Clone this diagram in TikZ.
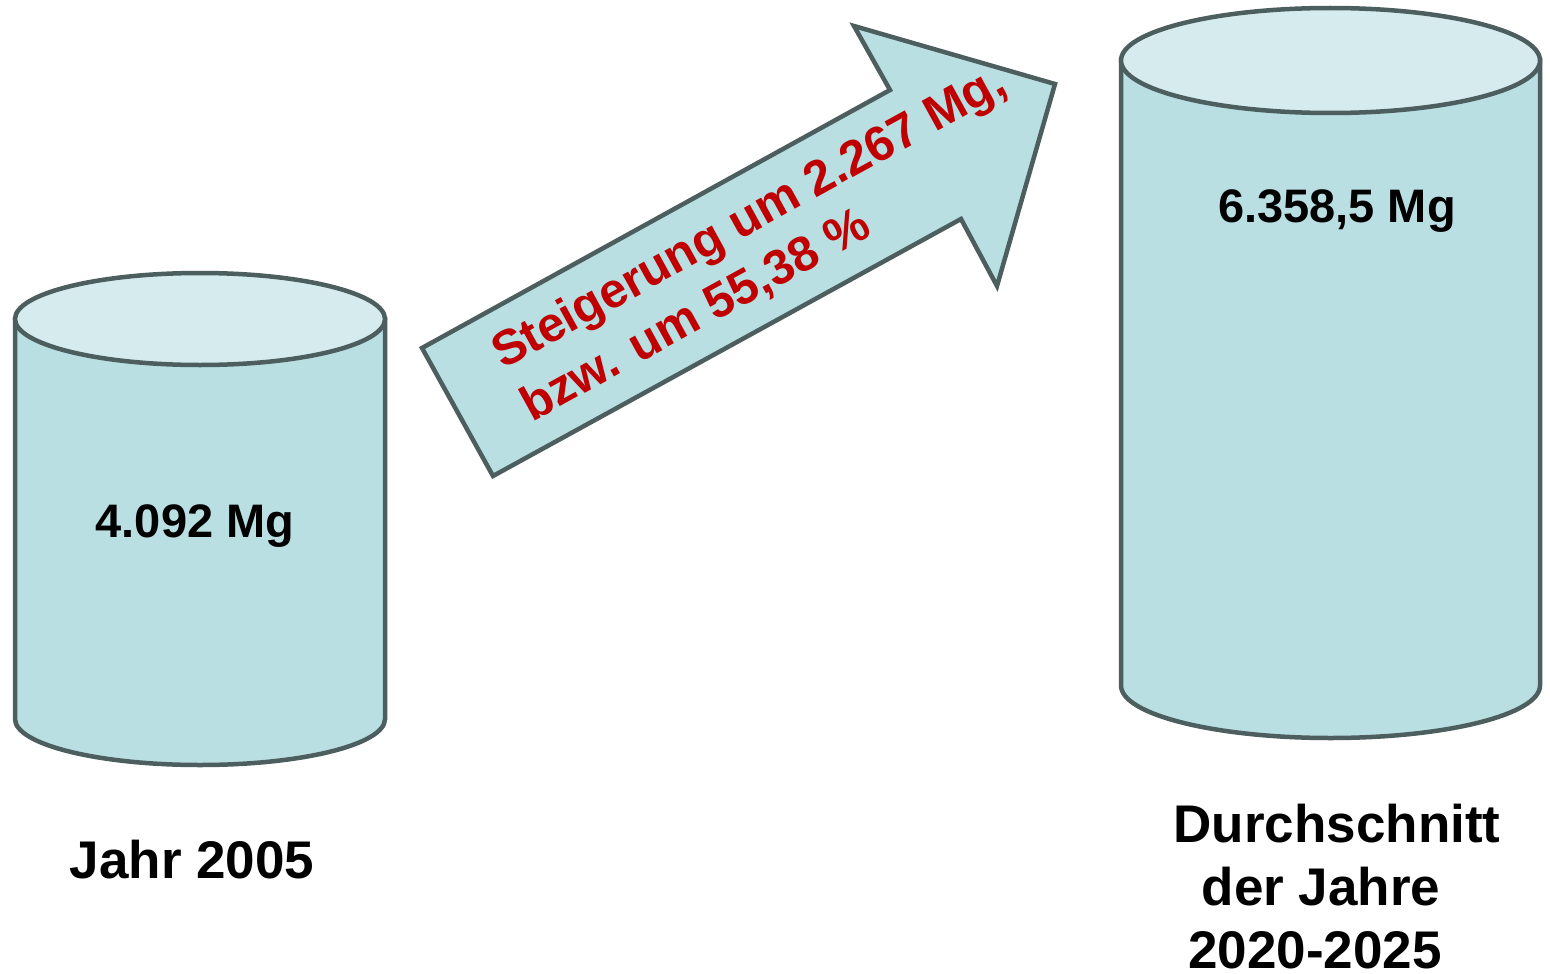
\documentclass[tikz,border=0pt]{standalone}
\usepackage{fontspec}
\setmainfont{Liberation Sans}
\definecolor{bodyfill}{HTML}{B9DFE3}
\definecolor{topfill}{HTML}{D6EBEE}
\definecolor{edge}{HTML}{4D5E5E}
\definecolor{redtxt}{HTML}{C00000}
\tikzset{
  shapeline/.style={draw=edge, line width=4.5pt, line join=miter},
  val/.style={inner sep=0pt, anchor=base, font=\fontsize{47}{56}\selectfont\bfseries},
  captionlbl/.style={inner sep=0pt, anchor=base, font=\fontsize{53}{63}\selectfont\bfseries},
  redlbl/.style={inner sep=0pt, anchor=base west, rotate=28.8, text=redtxt, font=\fontsize{49}{58}\selectfont\bfseries}
}
\begin{document}
\begin{tikzpicture}[x=1pt,y=-1pt]
\useasboundingbox (0,0) rectangle (1550,974);
% left cylinder
\path[shapeline, fill=bodyfill] (15,319) -- (15,719) arc[start angle=180, end angle=0, x radius=185, y radius=46] -- (385,319) -- cycle;
\path[shapeline, fill=topfill] (200,319) ellipse[x radius=185, y radius=46];
% right cylinder
\path[shapeline, fill=bodyfill] (1121,60.5) -- (1121,685.5) arc[start angle=180, end angle=0, x radius=209.5, y radius=52.5] -- (1540,60.5) -- cycle;
\path[shapeline, fill=topfill] (1330.5,60.5) ellipse[x radius=209.5, y radius=52.5];
% arrow
\path[shapeline, fill=bodyfill] (422,348) -- (890,90) -- (854,26) -- (1055,84) -- (997,286) -- (961,219) -- (493,476) -- cycle;
% texts
\node[val] (v1) at (195,537) {4.092 Mg};
\node[val] (v2) at (1337,222) {6.358,5 Mg};
\node[captionlbl] (c1) at (192,878) {Jahr 2005};
\node[captionlbl] (c2a) at (1337,842) {Durchschnitt};
\node[captionlbl] (c2b) at (1321,905) {der Jahre};
\node[captionlbl] (c2c) at (1315,968) {2020-2025};
\node[redlbl] (r1) at (503,370) {Steigerung um 2.267 Mg,};
\node[redlbl] (r2) at (532,422.5) {bzw. um 55,38 \%};
\end{tikzpicture}
\end{document}
